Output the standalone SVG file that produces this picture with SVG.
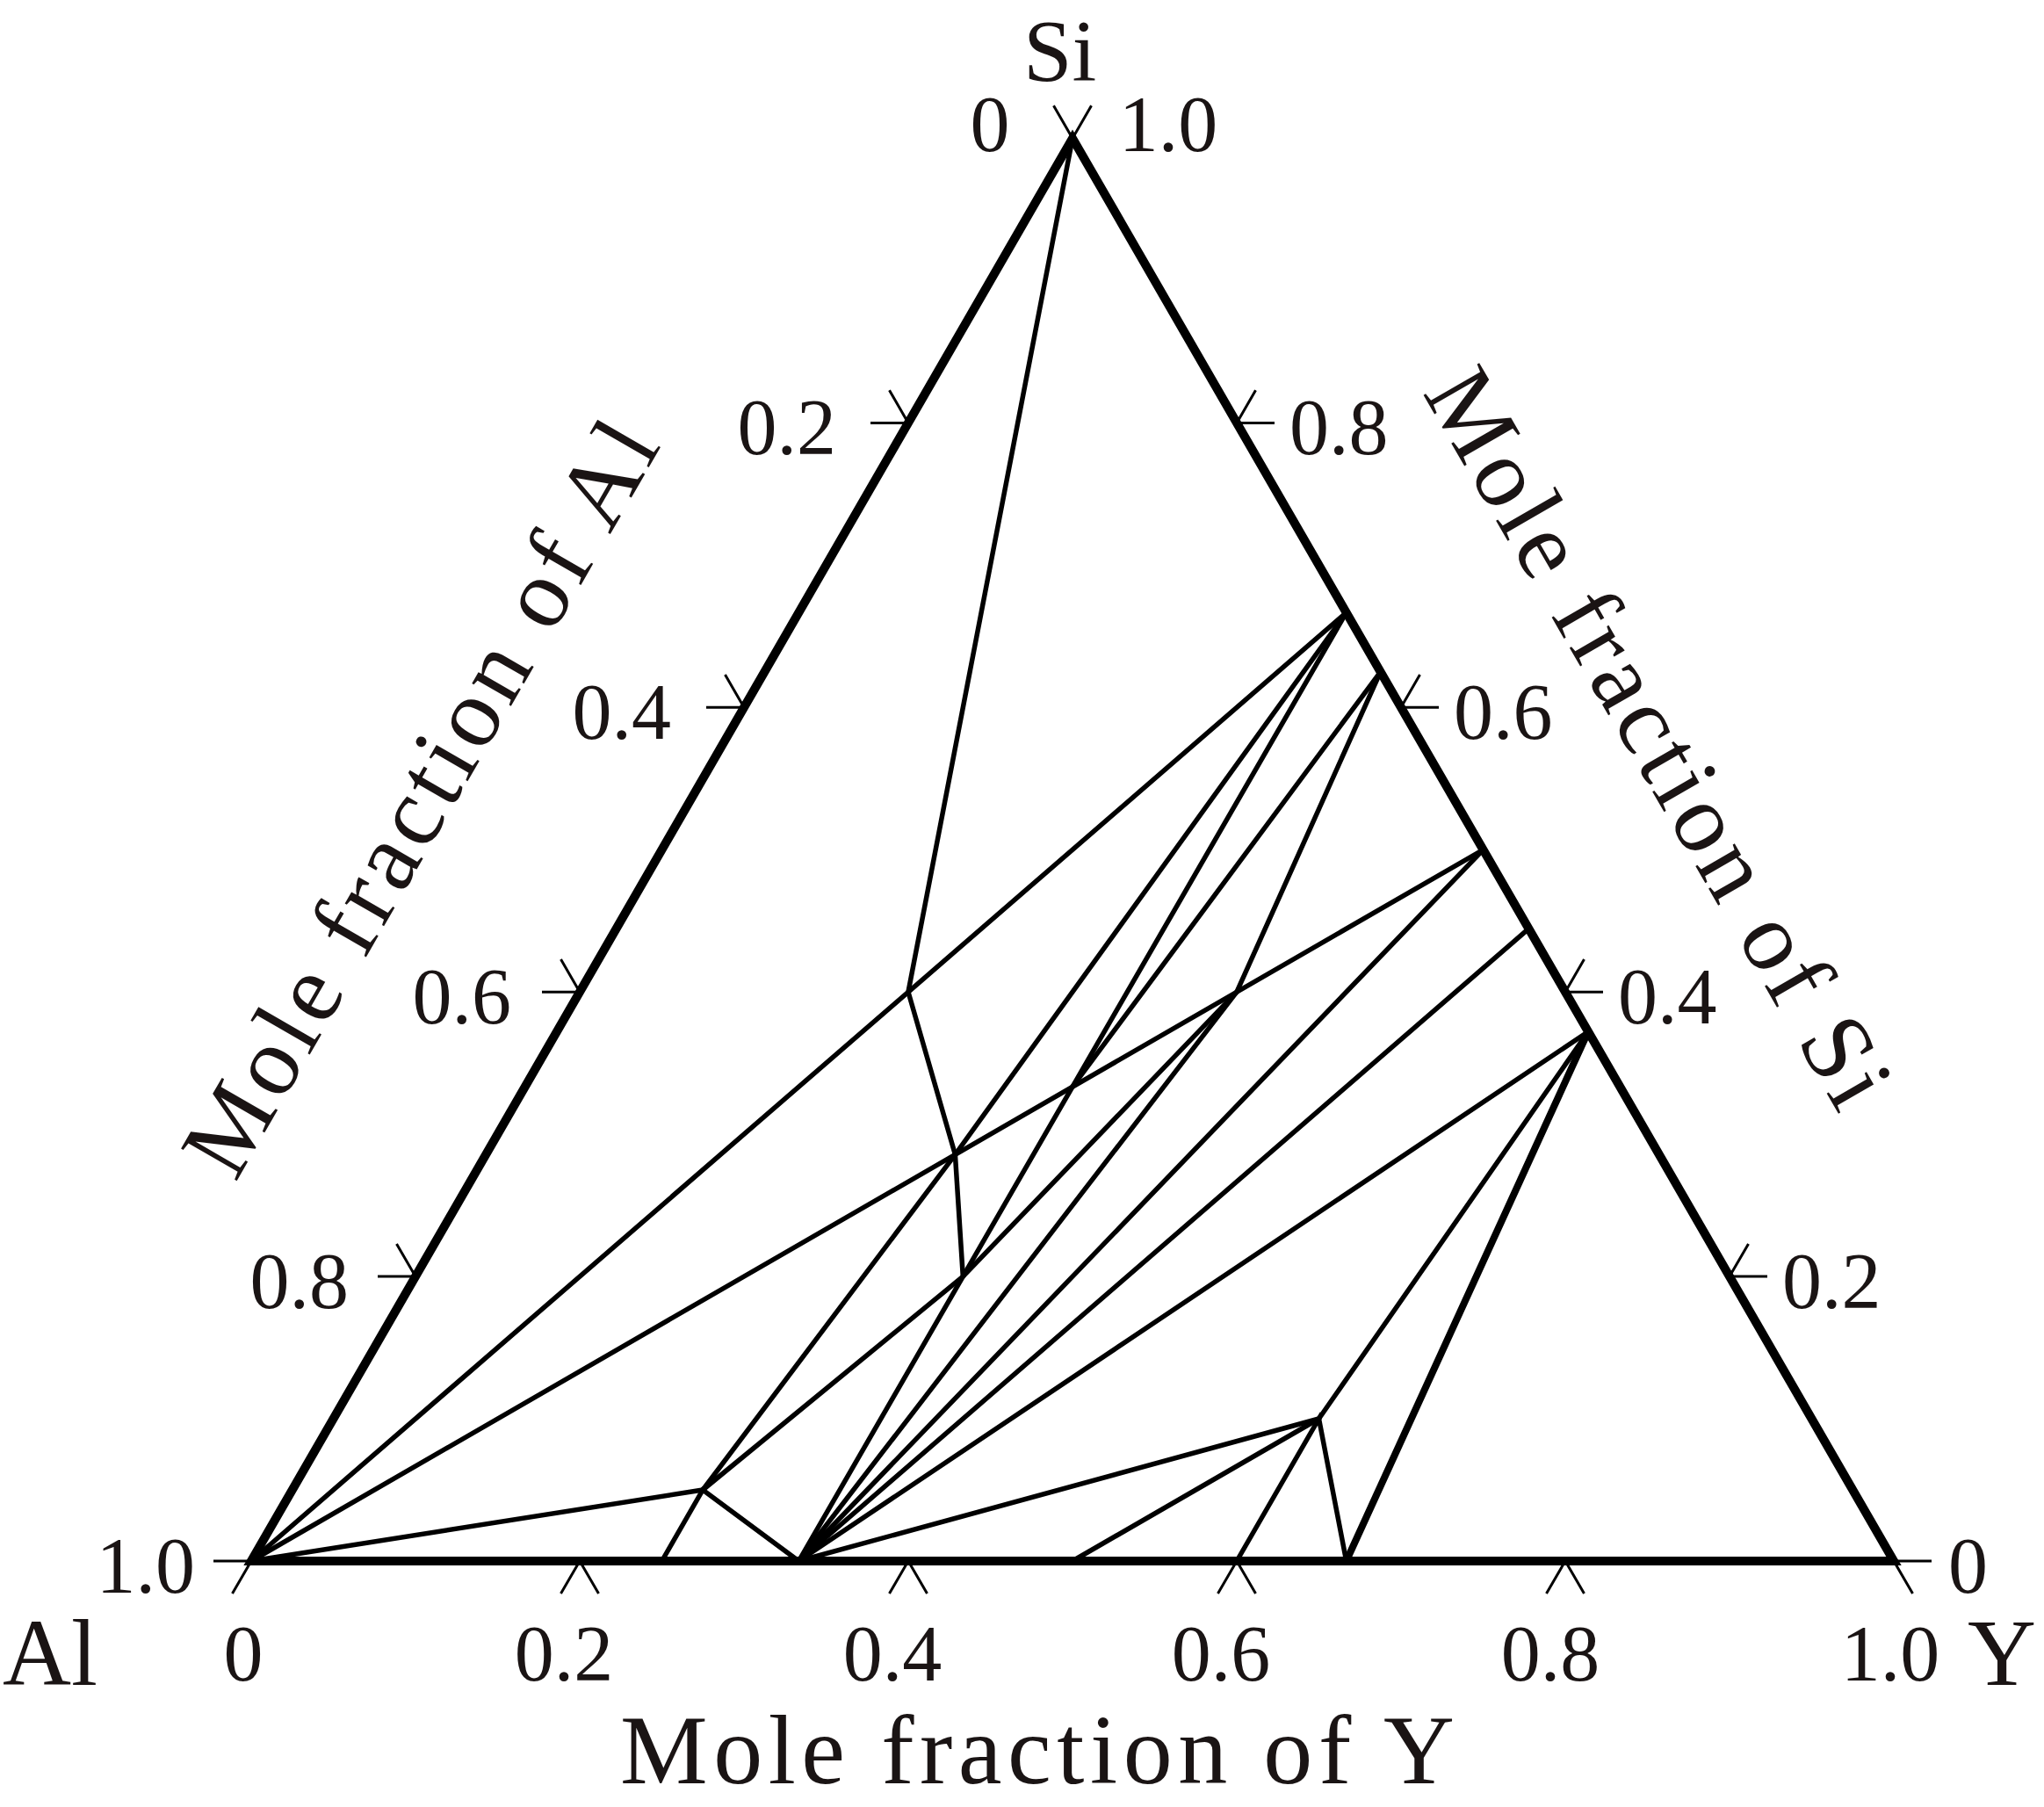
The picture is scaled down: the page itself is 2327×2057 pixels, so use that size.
<svg xmlns="http://www.w3.org/2000/svg" width="2327" height="2057" viewBox="0 0 2327 2057">
<style>
.edge{fill:none;stroke:#000;stroke-width:10;stroke-linejoin:miter;stroke-miterlimit:4}
.tie{fill:none;stroke:#000;stroke-width:5.5;stroke-linecap:round}
.tick{fill:none;stroke:#000;stroke-width:3}
.num{font-family:"Liberation Serif","Times New Roman",serif;font-size:90px;fill:#1a1414}
.corner{font-family:"Liberation Serif","Times New Roman",serif;font-size:108px;fill:#1a1414}
.title{font-family:"Liberation Serif","Times New Roman",serif;font-size:112px;fill:#1a1414}
</style>
<rect width="2327" height="2057" fill="#fff"/>
<g id="tie-lines">
<path class="tie" d="M1221 157.5 L1034 1129.2 L1087.4 1314.3 L1096.3 1453.1"/>
<path class="tie" d="M286 1777 L1532.7 697.3"/>
<path class="tie" d="M286 1777 L1688.5 967.3"/>
<path class="tie" d="M286 1777 L800.1 1696"/>
<path class="tie" d="M753.5 1777 L800.1 1696 L909.3 1777"/>
<path class="tie" d="M800.1 1696 L1087.4 1314.3 L1532.7 697.3"/>
<path class="tie" d="M800.1 1696 L1096.3 1453.1"/>
<path class="tie" d="M909.3 1777 L1532.7 697.3"/>
<path class="tie" d="M1221 1237.2 L1571.6 764.8"/>
<path class="tie" d="M1096.3 1453.1 L1408 1129.2"/>
<path class="tie" d="M909.3 1777 L1408 1129.2 L1571.6 764.8"/>
<path class="tie" d="M909.3 1777 L1688.5 967.3"/>
<path class="tie" d="M909.3 1777 L1740.4 1057.2"/>
<path class="tie" d="M909.3 1777 L1808 1174.5"/>
<path class="tie" d="M909.3 1777 L1501.5 1615"/>
<path class="tie" d="M1221 1777 L1501.5 1615"/>
<path class="tie" d="M1408 1777 L1501.5 1615 L1532.7 1777"/>
<path class="tie" d="M1501.5 1615 L1808 1174.5"/>
<path class="tie" style="stroke-width:8" d="M1532.7 1777 L1808 1174.5"/>
</g>
<g id="triangle">
<path class="edge" d="M286 1777 L2156 1777 L1221 157.5 Z"/>
</g>
<g id="ticks">
<path class="tick" d="M1199.5 120.3 L1221 157.5 L1242.5 120.3"/>
<path class="tick" d="M243 1777 L286 1777 L264.5 1814"/>
<path class="tick" d="M2199 1777 L2156 1777 L2177.5 1814"/>
<path class="tick" d="M638.5 1814 L660 1777 L681.5 1814"/>
<path class="tick" d="M1012.5 1814 L1034 1777 L1055.5 1814"/>
<path class="tick" d="M1386.5 1814 L1408 1777 L1429.5 1814"/>
<path class="tick" d="M1760.5 1814 L1782 1777 L1803.5 1814"/>
<path class="tick" d="M991 481.4 L1034 481.4 L1012.5 444.2"/>
<path class="tick" d="M804 805.3 L847 805.3 L825.5 768.1"/>
<path class="tick" d="M617 1129.2 L660 1129.2 L638.5 1092"/>
<path class="tick" d="M430 1453.1 L473 1453.1 L451.5 1415.9"/>
<path class="tick" d="M1451 481.4 L1408 481.4 L1429.5 444.2"/>
<path class="tick" d="M1638 805.3 L1595 805.3 L1616.5 768.1"/>
<path class="tick" d="M1825 1129.2 L1782 1129.2 L1803.5 1092"/>
<path class="tick" d="M2012 1453.1 L1969 1453.1 L1990.5 1415.9"/>
</g>
<g id="corner-labels">
<text class="corner" x="1165" y="91" style="font-size:100px">Si</text>
<text class="corner" x="3" y="1918">Al</text>
<text class="corner" x="2240" y="1918">Y</text>
</g>
<g id="apex-labels">
<text class="num" x="1127" y="172" text-anchor="middle">0</text>
<text class="num" x="1330" y="172" text-anchor="middle">1.0</text>
</g>
<g id="al-axis-labels">
<text class="num" x="952" y="517" text-anchor="end">0.2</text>
<text class="num" x="764" y="841" text-anchor="end">0.4</text>
<text class="num" x="582" y="1165" text-anchor="end">0.6</text>
<text class="num" x="397" y="1489" text-anchor="end">0.8</text>
<text class="num" x="222" y="1813" text-anchor="end">1.0</text>
</g>
<g id="si-axis-labels">
<text class="num" x="1468" y="517">0.8</text>
<text class="num" x="1655" y="841">0.6</text>
<text class="num" x="1842" y="1165">0.4</text>
<text class="num" x="2029" y="1489">0.2</text>
<text class="num" x="2218" y="1813">0</text>
</g>
<g id="y-axis-labels">
<text class="num" x="277" y="1913" text-anchor="middle">0</text>
<text class="num" x="642" y="1913" text-anchor="middle">0.2</text>
<text class="num" x="1016" y="1913" text-anchor="middle">0.4</text>
<text class="num" x="1390" y="1913" text-anchor="middle">0.6</text>
<text class="num" x="1765" y="1913" text-anchor="middle">0.8</text>
<text class="num" x="2152" y="1913" text-anchor="middle">1.0</text>
</g>
<g id="axis-titles">
<text class="title" x="706" y="2030" textLength="950" lengthAdjust="spacing">Mole fraction of Y</text>
<text class="title" transform="translate(268,1347) rotate(-60)" x="0" y="0" textLength="970" lengthAdjust="spacing">Mole fraction of Al</text>
<text class="title" transform="translate(1619,447) rotate(60)" x="0" y="0" textLength="950" lengthAdjust="spacing">Mole fraction of Si</text>
</g>
</svg>
